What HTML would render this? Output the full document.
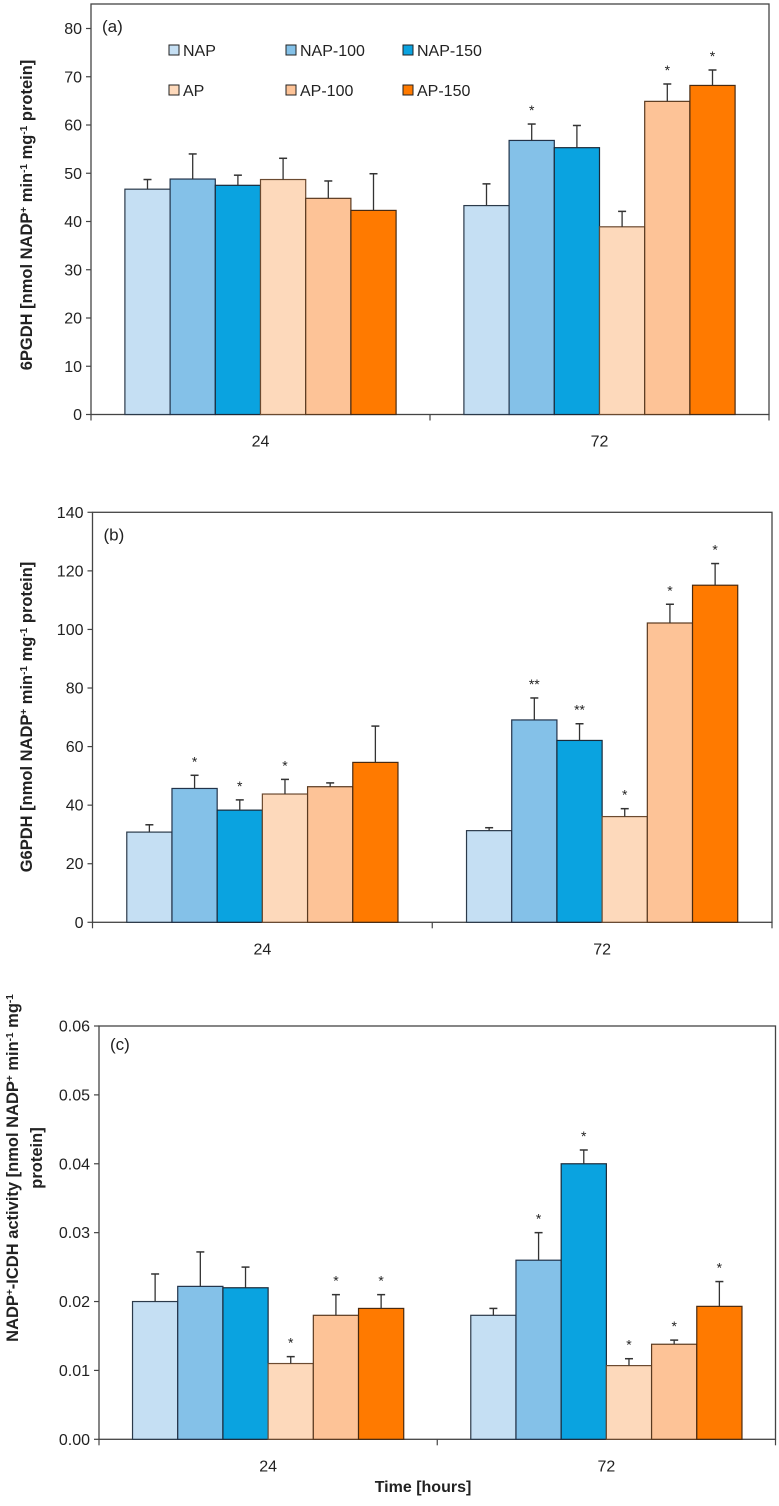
<!DOCTYPE html>
<html><head><meta charset="utf-8"><style>
body{margin:0;background:#fff}
svg text{font-family:"Liberation Sans",sans-serif;fill:#222}
</style></head><body>
<svg id="c" width="779" height="1501" viewBox="0 0 779 1501" xmlns="http://www.w3.org/2000/svg"></svg>
<script>
const categories=["24","72"];
const seriesNames=["NAP","NAP-100","NAP-150","AP","AP-100","AP-150"];
const colors=["#c5dff3","#84c1e8","#0aa3e0","#fdd9bb","#fdc397","#ff7a00"];
const strokes=["#2b3a4a","#22334a","#1a2a3a","#6b4a30","#5a3a20","#4a2a10"];
const aVals=[[46.7,48.8,47.5,48.7,44.8,42.3],[43.3,56.8,55.3,38.9,64.9,68.2]];
const aErr=[[2,5.2,2.1,4.4,3.6,7.6],[4.5,3.4,4.6,3.2,3.6,3.2]];
const aStar=[["","","","","",""],["","*","","","*","*"]];
const bVals=[[30.8,45.7,38.3,43.8,46.3,54.6],[31.3,69.1,62.1,36.1,102.2,115.1]];
const bErr=[[2.5,4.5,3.5,5,1.3,12.4],[1,7.5,5.7,2.7,6.4,7.4]];
const bStar=[["","*","*","*","",""],["","**","**","*","*","*"]];
const cVals=[[0.020,0.0222,0.022,0.011,0.018,0.019],[0.018,0.026,0.040,0.0107,0.0138,0.0193]];
const cErr=[[0.004,0.005,0.003,0.001,0.003,0.002],[0.001,0.004,0.002,0.001,0.0006,0.0036]];
const cStar=[["","","","*","*","*"],["","*","*","*","*","*"]];
const aTicks=[0,10,20,30,40,50,60,70,80];
const bTicks=[0,20,40,60,80,100,120,140];
const cTicks=[0,0.01,0.02,0.03,0.04,0.05,0.06];
const NS="http://www.w3.org/2000/svg";
const svg=document.getElementById('c');
function mk(t,a,p){const e=document.createElementNS(NS,t);for(const k in a)e.setAttribute(k,a[k]);(p||svg).appendChild(e);return e;}
function panel(o){
  const g=mk('g',{});
  
  
  const y=v=>o.y0+(v-o.vmin)/(o.vmax-o.vmin)*(o.y1-o.y0);
  const L=o.left,R=o.right,W=R-L;
  const fr=mk('rect',{x:L,y:o.top,width:W,height:o.y0-o.top,fill:'none',stroke:'#444','stroke-width':1.3},g);
  
  
  o.ticks.forEach(t=>{
    mk('line',{x1:L-5,x2:L,y1:y(t),y2:y(t),stroke:'#444','stroke-width':1.2},g);
    const tx=mk('text',{x:L-9,y:y(t)+5.5,'text-anchor':'end','font-size':16},g);
    tx.textContent=o.fmt(t);
    
    
  });
  const band=W/categories.length;
  [L,L+band,R].forEach(x=>mk('line',{x1:x,x2:x,y1:o.y0,y2:o.y0+6,stroke:'#444','stroke-width':1.2},g));
  const bw=45.2;
  categories.forEach((c,ci)=>{
    const cx=L+band*(ci+0.5);
    const t=mk('text',{x:cx,y:o.y0+32,'text-anchor':'middle','font-size':16},g);
    t.textContent=c;
    
    
    o.vals[ci].forEach((v,si)=>{
      const x=cx-3*bw+si*bw;
      const top=y(v),et=y(v+o.err[ci][si]);
      const r=mk('rect',{x:x,y:top,width:bw,height:o.y0-top,fill:colors[si],stroke:strokes[si],'stroke-width':1.2},g);
      
      
      const xm=x+bw/2;
      mk('line',{x1:xm,x2:xm,y1:top,y2:et,stroke:'#333','stroke-width':1.3},g);
      mk('line',{x1:xm-4,x2:xm+4,y1:et,y2:et,stroke:'#333','stroke-width':1.5},g);
      const s=o.star[ci][si];
      if(s){const st=mk('text',{x:xm,y:et-9,'text-anchor':'middle','font-size':14},g);st.textContent=s;
        
        }
    });
  });
  const pl=mk('text',{x:L+11,y:o.top+o.labDy,'font-size':17},g);
  pl.textContent=o.label;
  
  
}
panel({name:'chart-6pgdh',left:91,right:769,top:4,y0:414.5,y1:28.5,vmin:0,vmax:80,ticks:aTicks,fmt:t=>t,vals:aVals,err:aErr,star:aStar,label:'(a)',labDy:28});
panel({name:'chart-g6pdh',left:92.5,right:772,top:512.3,y0:922.3,y1:512.3,vmin:0,vmax:140,ticks:bTicks,fmt:t=>t,vals:bVals,err:bErr,star:bStar,label:'(b)',labDy:28});
panel({name:'chart-icdh',left:99,right:775.5,top:1026,y0:1439.3,y1:1026,vmin:0,vmax:0.06,ticks:cTicks,fmt:t=>t.toFixed(2),vals:cVals,err:cErr,star:cStar,label:'(c)',labDy:24});
const lg=mk('g',{});


const lx=[169,286,403],ly=[50,90];
seriesNames.forEach((n,i)=>{
  const col=i%3,row=Math.floor(i/3);
  const e=mk('g',{},lg);
  
  
  mk('rect',{x:lx[col],y:ly[row]-5,width:10,height:10,fill:colors[i],stroke:'#222','stroke-width':1},e);
  const t=mk('text',{x:lx[col]+14,y:ly[row]+6,'font-size':16},e);t.textContent=n;
});
</script>
<svg style="position:absolute;left:0;top:0" width="779" height="1501">
<text transform="translate(32,215) rotate(-90)" text-anchor="middle" font-size="16.5" font-weight="bold" style="font-family:'Liberation Sans',sans-serif">6PGDH [nmol NADP<tspan baseline-shift="super" font-size="10">+</tspan> min<tspan baseline-shift="super" font-size="10">-1</tspan> mg<tspan baseline-shift="super" font-size="10">-1</tspan> protein]</text>
<text transform="translate(32,717) rotate(-90)" text-anchor="middle" font-size="16.5" font-weight="bold" style="font-family:'Liberation Sans',sans-serif">G6PDH [nmol NADP<tspan baseline-shift="super" font-size="10">+</tspan> min<tspan baseline-shift="super" font-size="10">-1</tspan> mg<tspan baseline-shift="super" font-size="10">-1</tspan> protein]</text>
<text transform="translate(18,1168) rotate(-90)" text-anchor="middle" font-size="16.5" font-weight="bold" style="font-family:'Liberation Sans',sans-serif">NADP<tspan baseline-shift="super" font-size="10">+</tspan>-ICDH activity [nmol NADP<tspan baseline-shift="super" font-size="10">+</tspan> min<tspan baseline-shift="super" font-size="10">-1</tspan> mg<tspan baseline-shift="super" font-size="10">-1</tspan></text>
<text transform="translate(42,1158) rotate(-90)" text-anchor="middle" font-size="16.5" font-weight="bold" style="font-family:'Liberation Sans',sans-serif">protein]</text>
<text x="423" y="1492" text-anchor="middle" font-size="16" font-weight="bold" style="font-family:'Liberation Sans',sans-serif">Time [hours]</text>
</svg>
</body></html>
